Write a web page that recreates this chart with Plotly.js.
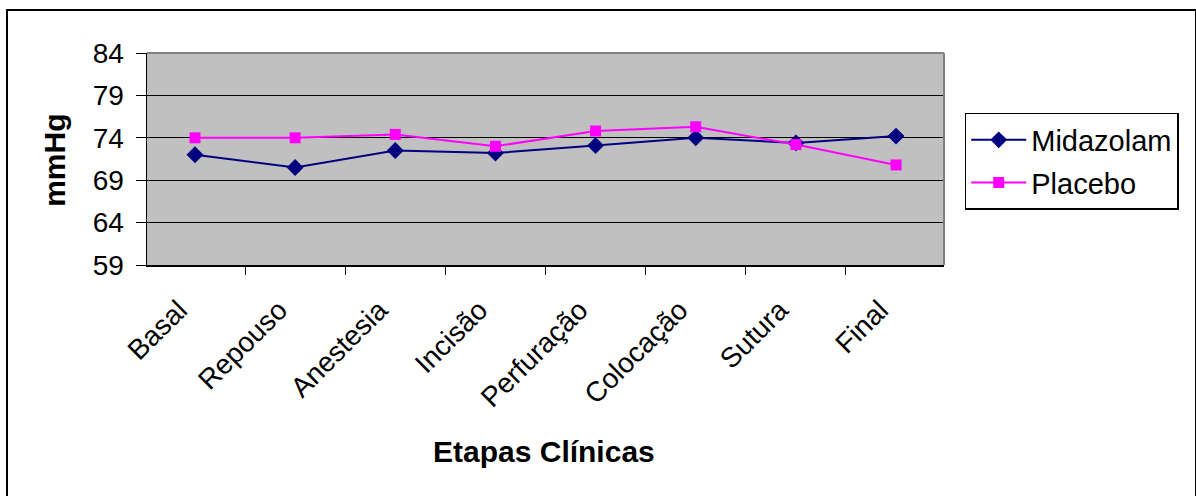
<!DOCTYPE html>
<html>
<head>
<meta charset="utf-8">
<script src="https://cdn.plot.ly/plotly-3.0.1.min.js"></script>
<style>
  html, body { margin: 0; padding: 0; background: #fff; }
  #chart { width: 1196px; height: 496px; }
  #frame { position: absolute; left: 6px; top: 9px; width: 1187px; height: 500px;
           border-left: 2px solid #000; border-top: 2px solid #000; border-right: 2px solid #000;
           pointer-events: none; }
</style>
</head>
<body>
<div id="chart"></div>
<div id="frame"></div>
<script>
const categories = ["Basal", "Repouso", "Anestesia", "Incisão", "Perfuração", "Colocação", "Sutura", "Final"];
const midazolam = [72.0, 70.5, 72.5, 72.2, 73.1, 74.0, 73.4, 74.2];
const placebo   = [74.0, 74.0, 74.4, 73.0, 74.8, 75.3, 73.2, 70.8];
const yTicks = [59, 64, 69, 74, 79, 84];
const seriesNames = ["Midazolam", "Placebo"];
const xTitle = "Etapas Clínicas";
const yTitle = "mmHg";

const font = "Arial, 'Liberation Sans', sans-serif";

const traces = [
  { x: categories, y: midazolam, name: seriesNames[0], legendgroup: "a", type: "scatter", mode: "lines+markers",
    line: { color: "#000080", width: 2 }, marker: { symbol: "diamond", size: 13, color: "#000080" } },
  { x: categories, y: placebo, name: seriesNames[1], legendgroup: "b", type: "scatter", mode: "lines+markers",
    line: { color: "#FF00FF", width: 2 }, marker: { symbol: "square", size: 11, color: "#FF00FF" } }
];

const layout = {
  width: 1196, height: 496,
  margin: { l: 147, r: 252, t: 53, b: 231 },
  paper_bgcolor: "#ffffff",
  plot_bgcolor: "#C0C0C0",
  font: { family: font, color: "#000", size: 28 },
  showlegend: true,
  legend: {
    x: 1.026, y: 0.717, xanchor: "left", yanchor: "top",
    bgcolor: "#ffffff", bordercolor: "#000", borderwidth: 1.5,
    font: { family: font, size: 29, color: "#000" },
    traceorder: "grouped", tracegroupgap: 2,
    itemwidth: 55
  },
  xaxis: {
    type: "category", tickangle: -45, tickson: "boundaries",
    ticks: "outside", ticklen: 8, tickcolor: "#000", tickwidth: 1,
    showline: true, linecolor: "#000", linewidth: 1.5,
    showgrid: false, zeroline: false,
    tickfont: { family: font, size: 28, color: "#000" },
    ticklabelstandoff: 16, ticklabelshift: -16,
    fixedrange: true, automargin: false
  },
  yaxis: {
    range: [59, 84], tickvals: yTicks, ticktext: yTicks.map(String),
    ticks: "outside", ticklen: 10, tickcolor: "#000", tickwidth: 1,
    showline: true, linecolor: "#000", linewidth: 1.5,
    showgrid: true, gridcolor: "#000", gridwidth: 1, zeroline: false,
    tickfont: { family: font, size: 28, color: "#000" },
    ticklabelstandoff: 6,
    fixedrange: true, automargin: false
  },
  shapes: [
    { type: "line", xref: "paper", yref: "paper", x0: 0, x1: 1, y0: 1, y1: 1, line: { color: "#808080", width: 2 } },
    { type: "line", xref: "paper", yref: "paper", x0: 1, x1: 1, y0: 0, y1: 1, line: { color: "#808080", width: 2 } }
  ],
  annotations: [
    { text: "<b>" + xTitle + "</b>", xref: "paper", yref: "paper", x: 0.498, y: -0.88,
      xanchor: "center", yanchor: "middle", showarrow: false, font: { family: font, size: 30, color: "#000" } },
    { text: "<b>" + yTitle + "</b>", xref: "paper", yref: "paper", x: -0.117, y: 0.495,
      xanchor: "center", yanchor: "middle", textangle: -90, showarrow: false, font: { family: font, size: 30, color: "#000" } }
  ]
};

Plotly.newPlot("chart", traces, layout, { displayModeBar: false, staticPlot: true });
</script>
</body>
</html>
